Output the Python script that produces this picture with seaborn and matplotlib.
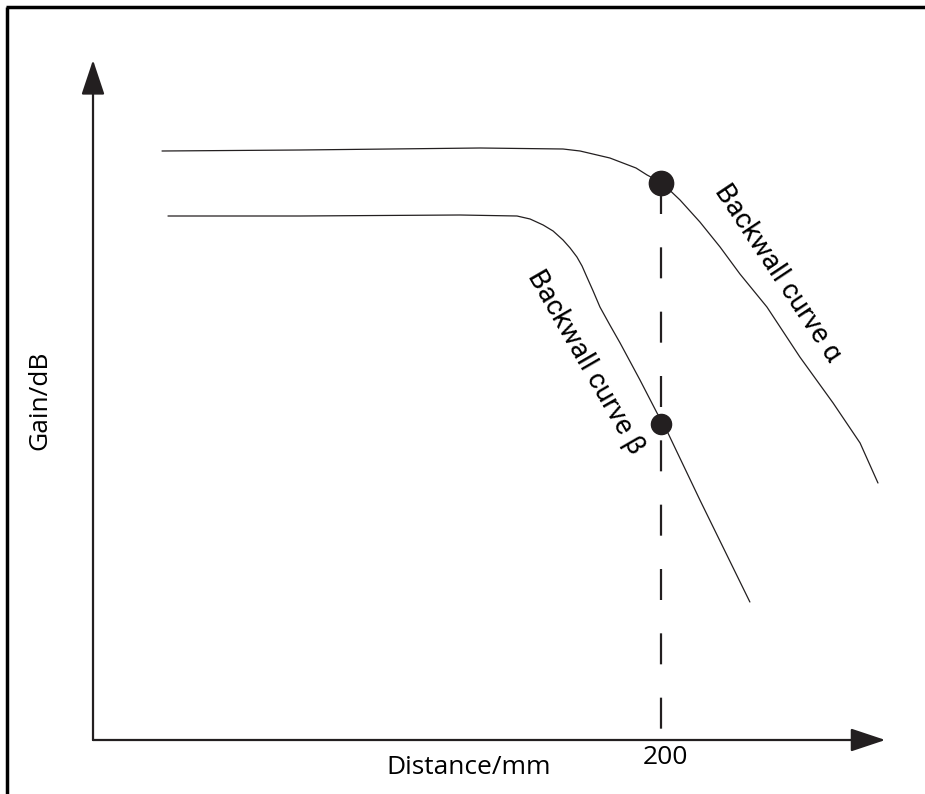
import numpy as np
import pandas as pd
import matplotlib
matplotlib.use("Agg")
import matplotlib.pyplot as plt
import seaborn as sns

# curve readings (distance in mm, gain in dB, arbitrary gain scale)
alpha_mm = [24.3, 72.9, 136.3, 165.5, 171.5, 177.5, 182.0, 186.6, 191.2, 195.1,
            200.4, 206.7, 213.7, 220.8, 227.8, 237.3, 248.9, 260.6, 270.1, 276.4]
alpha_db = [58.9, 59.0, 59.2, 59.1, 58.9, 58.5, 58.2, 57.7, 57.2, 56.5,
            55.7, 54.0, 51.8, 49.3, 46.6, 43.3, 38.3, 33.7, 29.7, 25.7]
beta_mm = [26.4, 72.9, 129.2, 149.3, 153.9, 158.5, 162.0, 165.5, 168.0, 170.4,
           172.2, 173.9, 176.1, 178.5, 182.0, 185.6, 192.6, 198.6, 201.1, 213.7, 231.3]
beta_db = [52.4, 52.4, 52.5, 52.4, 52.1, 51.5, 50.9, 50.0, 49.2, 48.3,
           47.4, 46.3, 44.9, 43.3, 41.5, 39.7, 36.0, 32.7, 31.5, 24.0, 13.8]

ref_mm = 200
ref_alpha_db = 55.7
ref_beta_db = 31.6
x_end, y_end = 279, 68

ink = "#231f20"

sns.set_theme(style="white")
plt.rcParams['font.family'] = ['Open Sans', 'DejaVu Sans']

fig = plt.figure(figsize=(9.25, 7.94), dpi=100)
ax = fig.add_axes([0, 0, 1, 1])
ax.set_xlim(-32.75, 292.96)
ax.set_ylim(-5.4, 74.0)
ax.axis('off')

df_a = pd.DataFrame({'mm': alpha_mm, 'db': alpha_db})
df_b = pd.DataFrame({'mm': beta_mm, 'db': beta_db})
sns.lineplot(data=df_a, x='mm', y='db', ax=ax, color=ink, lw=0.9, sort=False, estimator=None)
sns.lineplot(data=df_b, x='mm', y='db', ax=ax, color=ink, lw=0.9, sort=False, estimator=None)

# dashed reference line at 200 mm
ax.plot([ref_mm, ref_mm], [ref_alpha_db, 0], color=ink, lw=1.6, linestyle=(0, (13.95, 15.0)))

ax.plot([ref_mm], [ref_alpha_db], 'o', color=ink, ms=17.5, zorder=5)
ax.plot([ref_mm], [ref_beta_db], 'o', color=ink, ms=14.5, zorder=5)

# axes with arrows
arrow = dict(arrowstyle='-|>,head_length=1.8,head_width=0.6', lw=1.6, color=ink,
             shrinkA=0, shrinkB=0)
ax.annotate('', xy=(x_end, 0), xytext=(0, 0), arrowprops=arrow)
ax.annotate('', xy=(0, y_end), xytext=(0, 0), arrowprops=arrow)

ax.text(132.2, -2.7, 'Distance/mm', ha='center', va='center', fontsize=19, color='black')
ax.text(ref_mm + 1.4, -1.8, '200', ha='center', va='center', fontsize=19, color='black')
ax.text(-18.7, 34.0, 'Gain/dB', ha='center', va='center', rotation=90, fontsize=19, color='black')

ax.text(241.2, 46.7, 'Backwall curve \u03b1', ha='center', va='center', rotation=-56.3,
        rotation_mode='anchor', fontsize=20, family=['Roboto', 'DejaVu Sans'], color='black')
ax.text(173.6, 37.8, 'Backwall curve \u03b2', ha='center', va='center', rotation=-60,
        rotation_mode='anchor', fontsize=20, family=['Roboto', 'DejaVu Sans'], color='black')

# frame (top and left edges visible)
ax.plot([0.0065, 1.0], [0.9915, 0.9915], transform=ax.transAxes, color='black', lw=2.5,
        clip_on=False, solid_capstyle='butt')
ax.plot([0.0076, 0.0076], [0.9915, 0.0], transform=ax.transAxes, color='black', lw=2.5,
        clip_on=False, solid_capstyle='butt')

fig.savefig('out.png', dpi=100)
